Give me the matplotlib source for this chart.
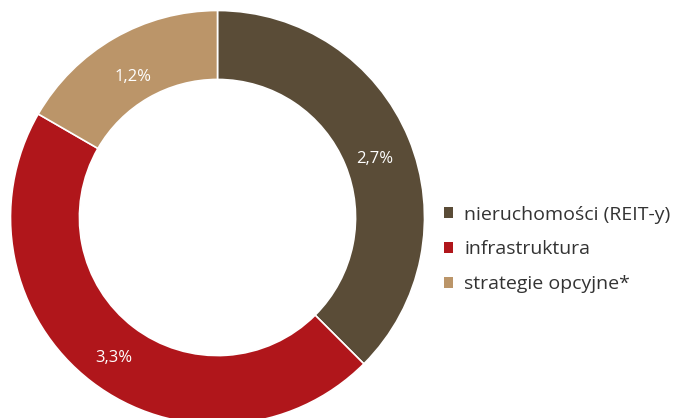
import matplotlib
matplotlib.use('Agg')
import matplotlib.pyplot as plt
import numpy as np

plt.rcParams['font.family'] = ['Open Sans', 'DejaVu Sans']

# dane
labels = ['nieruchomości (REIT-y)', 'infrastruktura', 'strategie opcyjne*']
values = [2.7, 3.3, 1.2]
value_labels = ['2,7%', '3,3%', '1,2%']
colors = ['#5a4c37', '#b0161b', '#bb9569']

W, H = 682, 418
fig = plt.figure(figsize=(W / 100, H / 100), dpi=100)

# donut: srodek ok. (217.5, 217.5) px, promien 207 px
cx, cy, R = 217.5, 217.5, 207
ax = fig.add_axes([(cx - R) / W, (H - cy - R) / H, 2 * R / W, 2 * R / H])

wedges, _ = ax.pie(values, colors=colors, startangle=90, counterclock=False,
                   radius=1.0,
                   wedgeprops=dict(width=0.333, edgecolor='white', linewidth=1.2))

# etykiety wartosci w srodku pierscienia
total = sum(values)
ang = 90.0
for v, txt in zip(values, value_labels):
    span = v / total * 360
    mid = np.deg2rad(ang - span / 2)
    ang -= span
    ax.text(0.82 * np.cos(mid), 0.82 * np.sin(mid) - 0.03, txt, color='white',
            fontsize=12, ha='center', va='center')

ax.set_xlim(-1, 1)
ax.set_ylim(-1, 1)
ax.set_aspect('equal')
ax.axis('off')

leg = fig.legend(wedges, labels, loc='center left',
                 bbox_to_anchor=(434 / W, (H - 249.5) / H),
                 frameon=False, fontsize=14, handlelength=0.5, handleheight=0.5,
                 handletextpad=0.55, labelspacing=0.86, borderpad=0)
for t in leg.get_texts():
    t.set_color('#333333')
for h in leg.legend_handles:
    h.set_edgecolor('none')

fig.savefig('out.png', dpi=100)
